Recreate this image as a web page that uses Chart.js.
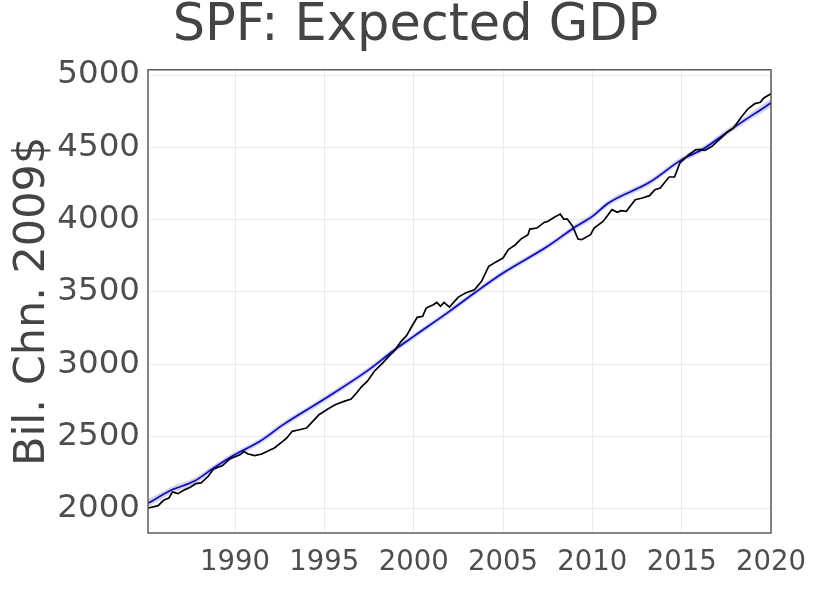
<!DOCTYPE html>
<html>
<head>
<meta charset="utf-8">
<script src="https://cdn.jsdelivr.net/npm/chart.js@4"></script>
<style>
  html, body { margin: 0; padding: 0; background: #fff; }
</style>
</head>
<body>
<canvas id="spf-chart" width="831" height="593"></canvas>
<script>
// actual real GDP (black line)
const gdpYears = [1985.15, 1985.7, 1986.0, 1986.3, 1986.5, 1986.8, 1987.2, 1987.5, 1987.8, 1988.1,
  1988.5, 1988.8, 1989.3, 1989.7, 1990.3, 1990.5, 1990.7, 1991.1, 1991.5, 1991.9,
  1992.2, 1992.6, 1992.9, 1993.2, 1993.6, 1994.0, 1994.3, 1994.7, 1995.2, 1995.6,
  1996.1, 1996.5, 1996.8, 1997.1, 1997.4, 1997.8, 1998.3, 1998.6, 1998.9, 1999.3,
  1999.6, 1999.9, 2000.2, 2000.5, 2000.7, 2001.1, 2001.3, 2001.5, 2001.7, 2002.0,
  2002.5, 2002.9, 2003.4, 2003.8, 2004.2, 2004.6, 2005.0, 2005.3, 2005.7, 2006.0,
  2006.4, 2006.5, 2006.9, 2007.3, 2007.5, 2007.8, 2008.2, 2008.4, 2008.6, 2008.9,
  2009.2, 2009.4, 2009.9, 2010.1, 2010.6, 2011.1, 2011.4, 2011.6, 2011.9, 2012.4,
  2012.8, 2013.2, 2013.5, 2013.8, 2014.1, 2014.3, 2014.6, 2014.9, 2015.4, 2015.8,
  2016.1, 2016.3, 2016.7, 2017.1, 2017.6, 2017.9, 2018.3, 2018.7, 2019.1, 2019.4,
  2019.6, 2020.0];
const gdpValues = [2007, 2023, 2060, 2076, 2118, 2106, 2134, 2150, 2175, 2180,
  2226, 2276, 2300, 2346, 2376, 2399, 2382, 2369, 2380, 2405,
  2422, 2461, 2491, 2537, 2548, 2560, 2599, 2652, 2691, 2721,
  2744, 2760, 2802, 2848, 2882, 2952, 3014, 3055, 3090, 3159,
  3198, 3263, 3325, 3332, 3389, 3412, 3428, 3401, 3428, 3396,
  3465, 3493, 3516, 3574, 3677, 3707, 3735, 3793, 3827, 3866,
  3896, 3935, 3942, 3981, 3988, 4011, 4039, 4004, 4004, 3954,
  3866, 3862, 3896, 3942, 3988, 4069, 4051, 4062, 4058, 4138,
  4150, 4166, 4207, 4219, 4265, 4295, 4295, 4392, 4449, 4484,
  4484, 4479, 4507, 4553, 4610, 4633, 4703, 4765, 4802, 4811,
  4841, 4871];

// expected GDP trend (blue) and its grey band
const trendYears = [1985.15, 1986.5, 1987.7, 1988.8, 1990.0, 1991.4, 1992.7, 1995.0, 1997.5, 1998.9,
  2000.0, 2002.0, 2003.4, 2005.0, 2007.5, 2009.1, 2010.0, 2010.9, 2013.2, 2015.0,
  2016.2, 2017.6, 2019.0, 2020.0];
const trendValues = [2041, 2134, 2191, 2283, 2376, 2468, 2583, 2760, 2963, 3097,
  3193, 3366, 3493, 3631, 3816, 3954, 4023, 4115, 4258, 4415,
  4488, 4610, 4726, 4806];
const bandHigh = [2068, 2158, 2213, 2304, 2396, 2488, 2603, 2780, 2983, 3116,
  3212, 3385, 3512, 3650, 3835, 3974, 4044, 4135, 4278, 4435,
  4509, 4632, 4750, 4834];
const bandLow = [2014, 2110, 2169, 2262, 2356, 2448, 2563, 2740, 2943, 3078,
  3174, 3347, 3474, 3612, 3797, 3934, 4002, 4095, 4238, 4395,
  4467, 4588, 4702, 4778];

const xTicks = [1990, 1995, 2000, 2005, 2010, 2015, 2020];
const yTicks = [2000, 2500, 3000, 3500, 4000, 4500, 5000];

const toPoints = (xs, ys) => xs.map((x, i) => ({ x: x, y: ys[i] }));

// ggplot-style panel border around the plot area
const panelBorder = {
  id: 'panelBorder',
  afterDatasetsDraw(chart) {
    const { ctx, chartArea } = chart;
    ctx.save();
    ctx.strokeStyle = '#444444';
    ctx.lineWidth = 1.3;
    ctx.strokeRect(chartArea.left, chartArea.top, chartArea.right - chartArea.left, chartArea.bottom - chartArea.top);
    ctx.restore();
  }
};

Chart.defaults.font.family = '"DejaVu Sans", Verdana, sans-serif';

const spfChart = new Chart(document.getElementById('spf-chart'), {
  type: 'line',
  data: {
    datasets: [
      {
        label: 'GDP',
        data: toPoints(gdpYears, gdpValues),
        borderColor: '#000000',
        borderWidth: 1.7,
        pointRadius: 0,
        tension: 0,
        order: 0
      },
      {
        label: 'Expected GDP',
        data: toPoints(trendYears, trendValues),
        borderColor: '#0000ff',
        borderWidth: 1.7,
        pointRadius: 0,
        cubicInterpolationMode: 'monotone',
        order: 1
      },
      {
        label: 'band high',
        data: toPoints(trendYears, bandHigh),
        borderWidth: 0,
        borderColor: 'rgba(0,0,0,0)',
        backgroundColor: 'rgba(170,170,170,0.5)',
        pointRadius: 0,
        cubicInterpolationMode: 'monotone',
        fill: '+1',
        order: 2
      },
      {
        label: 'band low',
        data: toPoints(trendYears, bandLow),
        borderWidth: 0,
        borderColor: 'rgba(0,0,0,0)',
        pointRadius: 0,
        cubicInterpolationMode: 'monotone',
        fill: false,
        order: 3
      }
    ]
  },
  options: {
    responsive: false,
    animation: false,
    layout: {
      padding: 0
    },
    plugins: {
      legend: { display: false },
      tooltip: { enabled: false },
      title: {
        display: true,
        text: 'SPF: Expected GDP',
        color: '#444444',
        font: { size: 51, weight: 'normal', lineHeight: 0.8 },
        padding: { top: 6, bottom: 23 }
      }
    },
    scales: {
      x: {
        type: 'linear',
        min: 1985.13,
        max: 2020,
        afterBuildTicks: (scale) => { scale.ticks = xTicks.map(v => ({ value: v })); },
        afterFit: (scale) => { scale.height = 60; },
        ticks: {
          color: '#4d4d4d',
          font: { size: 27.5 },
          padding: 13,
          maxRotation: 0,
          autoSkip: false,
          callback: (value) => String(value)
        },
        grid: { color: '#ebebeb', lineWidth: 1, drawTicks: false },
        border: { display: false }
      },
      y: {
        type: 'linear',
        min: 1834,
        max: 5036,
        afterBuildTicks: (scale) => { scale.ticks = yTicks.map(v => ({ value: v })); },
        afterFit: (scale) => { scale.width = 148; },
        ticks: {
          color: '#4d4d4d',
          font: { size: 32.5 },
          padding: 8,
          autoSkip: false,
          callback: (value) => String(value)
        },
        grid: { color: '#ebebeb', lineWidth: 1, drawTicks: false },
        border: { display: false },
        title: {
          display: true,
          text: 'Bil. Chn. 2009$',
          color: '#444444',
          font: { size: 43 },
          padding: { top: 7, bottom: 0 }
        }
      },
      // empty right margin so the title centres on the whole figure
      yRight: {
        type: 'linear',
        position: 'right',
        min: 1834,
        max: 5036,
        afterFit: (scale) => { scale.width = 60; },
        ticks: { display: false },
        grid: { display: false, drawTicks: false },
        border: { display: false }
      }
    }
  },
  plugins: [panelBorder]
});
</script>
</body>
</html>
